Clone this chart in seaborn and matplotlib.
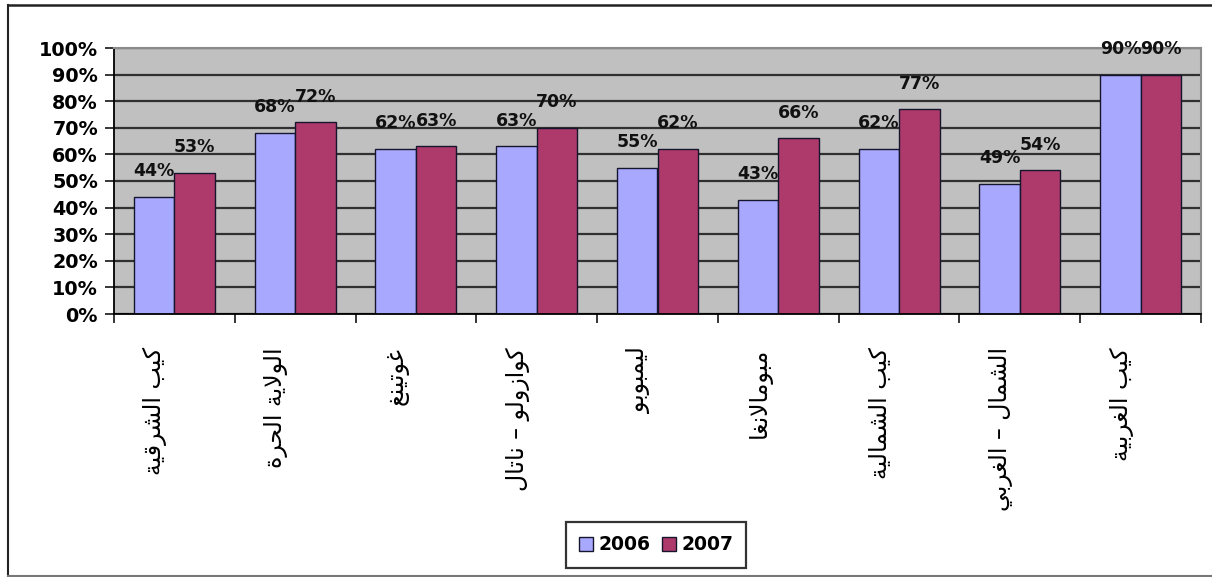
import matplotlib
matplotlib.use("Agg")
import matplotlib.pyplot as plt
import matplotlib.transforms as mtransforms
from matplotlib.lines import Line2D
from matplotlib.ticker import FixedLocator
import pandas as pd
import seaborn as sns

# ---------------- data ----------------
regions = [
    "كيب الشرقية",
    "الولاية الحرة",
    "غوتينغ",
    "كوازولو – ناتال",
    "ليمبوبو",
    "مبومالانغا",
    "كيب الشمالية",
    "الشمال – الغربي",
    "كيب الغربية",
]
years = ["2006", "2007"]
values_2006 = [44, 68, 62, 63, 55, 43, 62, 49, 90]
values_2007 = [53, 72, 63, 70, 62, 66, 77, 54, 90]
y_ticks = [0, 10, 20, 30, 40, 50, 60, 70, 80, 90, 100]
y_tick_labels = [f"{v}%" for v in y_ticks]

colors = ["#A8A8FF", "#AE3A6C"]

# ------------- Arabic contextual shaping (matplotlib has no shaping engine) -------------
FORMS = {
    "ا": (0xFE8D, 0xFE8E, None, None),
    "ب": (0xFE8F, 0xFE90, 0xFE91, 0xFE92),
    "ة": (0xFE93, 0xFE94, None, None),
    "ت": (0xFE95, 0xFE96, 0xFE97, 0xFE98),
    "ح": (0xFEA1, 0xFEA2, 0xFEA3, 0xFEA4),
    "ر": (0xFEAD, 0xFEAE, None, None),
    "ز": (0xFEAF, 0xFEB0, None, None),
    "ش": (0xFEB5, 0xFEB6, 0xFEB7, 0xFEB8),
    "غ": (0xFECD, 0xFECE, 0xFECF, 0xFED0),
    "ق": (0xFED5, 0xFED6, 0xFED7, 0xFED8),
    "ك": (0xFED9, 0xFEDA, 0xFEDB, 0xFEDC),
    "ل": (0xFEDD, 0xFEDE, 0xFEDF, 0xFEE0),
    "م": (0xFEE1, 0xFEE2, 0xFEE3, 0xFEE4),
    "ن": (0xFEE5, 0xFEE6, 0xFEE7, 0xFEE8),
    "و": (0xFEED, 0xFEEE, None, None),
    "ي": (0xFEF1, 0xFEF2, 0xFEF3, 0xFEF4),
}
LAMALEF = (0xFEFB, 0xFEFC)


def shape(text):
    units, i = [], 0
    while i < len(text):
        if text[i] == "ل" and i + 1 < len(text) and text[i + 1] == "ا":
            units.append("LA")
            i += 2
        else:
            units.append(text[i])
            i += 1

    def is_letter(u):
        return u == "LA" or u in FORMS

    def dual(u):
        return u in FORMS and FORMS[u][2] is not None

    out = []
    for k, u in enumerate(units):
        prev = units[k - 1] if k > 0 else None
        nxt = units[k + 1] if k + 1 < len(units) else None
        cp = prev is not None and dual(prev) and is_letter(u)
        cn = dual(u) and nxt is not None and is_letter(nxt)
        if u == "LA":
            out.append(chr(LAMALEF[1] if cp else LAMALEF[0]))
        elif u in FORMS:
            iso, fin, ini, med = FORMS[u]
            c = med if (cp and cn) else fin if cp else ini if cn else iso
            out.append(chr(c))
        else:
            out.append(u)
    return "".join(reversed(out))


# ---------------- table ----------------
df = pd.DataFrame({
    "region": regions * 2,
    "year": [years[0]] * len(regions) + [years[1]] * len(regions),
    "value": values_2006 + values_2007,
})

plt.rcParams["font.family"] = ["DejaVu Sans"]

fig = plt.figure(figsize=(12.12, 5.77), dpi=100)
ax = fig.add_axes([114 / 1212, 1 - 314 / 577, (1201 - 114) / 1212, (314 - 48) / 577])

sns.barplot(data=df, x="region", y="value", hue="year", order=regions,
            hue_order=years, palette=colors, width=0.67, saturation=1,
            edgecolor="#15152e", linewidth=1.0, ax=ax)

ax.set_facecolor("#C0C0C0")
ax.set_xlim(-0.5, len(regions) - 0.5)
ax.set_ylim(0, 100)
ax.set_axisbelow(True)
ax.yaxis.grid(True, color="#303030", linewidth=1.6)
ax.xaxis.grid(False)

# y axis
ax.set_yticks(y_ticks)
ax.set_yticklabels(y_tick_labels, fontsize=13.8, fontweight="bold")
ax.tick_params(axis="y", length=6.5, width=1.1, color="black", pad=5)

# x axis: labels at centres, tick marks at category boundaries
ax.set_xticks(range(len(regions)))
ax.set_xticklabels([shape(r) for r in regions], rotation=90, ha="right", va="top",
                   fontsize=17)
ax.tick_params(axis="x", which="major", length=0, pad=24)
shift = mtransforms.ScaledTranslation(-5 / 72, 0, fig.dpi_scale_trans)
for lab in ax.get_xticklabels():
    lab.set_transform(lab.get_transform() + shift)
ax.xaxis.set_minor_locator(FixedLocator([i - 0.5 for i in range(len(regions) + 1)]))
ax.tick_params(axis="x", which="minor", length=6.5, width=1.1, color="black")
ax.set_xlabel("")
ax.set_ylabel("")

for side in ("left", "bottom"):
    ax.spines[side].set_color("black")
    ax.spines[side].set_linewidth(1.3)
for side in ("top", "right"):
    ax.spines[side].set_color("#8a8a8a")
    ax.spines[side].set_linewidth(1.5)

# data labels
for cont in ax.containers:
    ax.bar_label(cont, labels=[f"{int(round(b.get_height()))}%" for b in cont],
                 padding=12, fontsize=12.5, fontweight="bold", color="#111111")

# legend
handles = ax.get_legend().legend_handles
ax.get_legend().remove()
leg = fig.legend(handles, years, loc="center", bbox_to_anchor=(656 / 1212, 1 - 545 / 577),
                 ncol=2, frameon=True, fancybox=False, edgecolor="black",
                 prop={"size": 13.5, "weight": "bold"}, handlelength=0.75,
                 handleheight=0.75, handletextpad=0.3, columnspacing=0.6,
                 borderpad=0.7, borderaxespad=0)
leg.get_frame().set_linewidth(1.6)

# outer chart frame
W, H = 1212, 577
fig.add_artist(Line2D([8 / W, 1.0], [1 - 5 / H, 1 - 5 / H], transform=fig.transFigure,
                      color="#222222", linewidth=1.8))
fig.add_artist(Line2D([8 / W, 8 / W], [1 - 5 / H, 1 - 576 / H], transform=fig.transFigure,
                      color="#222222", linewidth=1.5))
fig.add_artist(Line2D([8 / W, 1.0], [1 - 576 / H, 1 - 576 / H], transform=fig.transFigure,
                      color="#777777", linewidth=1.5))

fig.savefig("out.png", dpi=100)
